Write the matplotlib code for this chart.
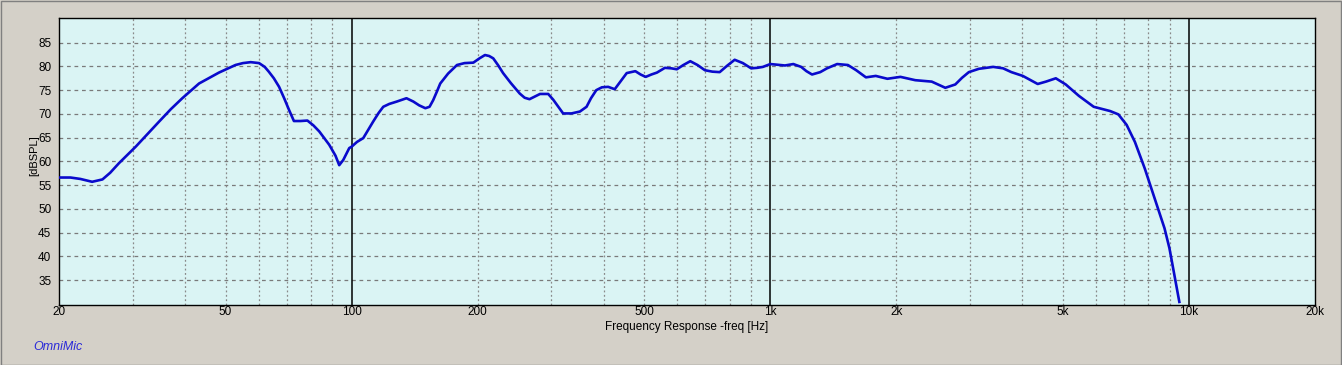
import matplotlib
matplotlib.use("Agg")
import matplotlib.pyplot as plt
from matplotlib.patches import Rectangle

# frequency response (Hz, dBSPL)
freq = [20, 21.3, 22.5, 24.0, 25.4, 26.5, 27.8, 30.5, 34.7, 37, 39.4, 43.2, 48.2,
        52.8, 55, 57.4, 60.1, 62, 63.4, 65.2, 67.1, 69, 70.9, 72.8, 75.5, 78.4,
        81, 83.7, 88.4, 91.5, 93.4, 95.5, 98.7, 100, 103, 106.6, 109.5, 112.6,
        116, 119, 123, 128.2, 135.2, 140.4, 145, 150, 153.5, 156.6, 160, 162.8,
        170, 178.5, 186, 195.3, 202, 208.2, 213, 217.9, 224, 230, 240, 252, 259,
        266, 273, 281.8, 294.8, 303, 311.6, 320, 335, 351, 364, 373, 384, 396,
        410, 425, 440, 454, 476, 490, 504, 520, 536, 560, 580, 598, 620, 644,
        670, 698, 727, 757, 790, 822, 860, 900, 930, 960, 1000, 1084, 1135, 1185,
        1220, 1258, 1316, 1366, 1444, 1532, 1604, 1692, 1786, 1904, 2046, 2220,
        2430, 2618, 2766, 2870, 2980, 3150, 3408, 3598, 3766, 4010, 4352, 4554,
        4808, 5078, 5458, 5922, 6482, 6782, 7096, 7428, 7842, 8280, 8742, 8982,
        9230, 9484]
spl = [56.6, 56.6, 56.3, 55.7, 56.2, 57.6, 59.6, 63.1, 68.4, 71.0, 73.3, 76.4, 78.7,
       80.3, 80.7, 80.9, 80.7, 79.9, 78.9, 77.5, 75.7, 73.3, 70.8, 68.5, 68.5, 68.6,
       67.6, 66.3, 63.5, 61.2, 59.2, 60.3, 62.8, 63.1, 64.1, 64.9, 66.6, 68.4,
       70.2, 71.5, 72.1, 72.6, 73.3, 72.6, 71.8, 71.2, 71.5, 72.9, 74.8, 76.4,
       78.5, 80.3, 80.7, 80.8, 81.7, 82.4, 82.2, 81.7, 80.2, 78.6, 76.5, 74.3, 73.4,
       73.1, 73.6, 74.2, 74.2, 73.0, 71.5, 70.1, 70.1, 70.5, 71.5, 73.3, 75.0, 75.6,
       75.7, 75.2, 77.0, 78.6, 79.0, 78.3, 77.8, 78.3, 78.7, 79.7, 79.6, 79.4, 80.3, 81.1,
       80.3, 79.2, 78.9, 78.8, 80.2, 81.4, 80.7, 79.6, 79.7, 79.9, 80.5, 80.2, 80.5, 79.9,
       79.0, 78.3, 78.8, 79.6, 80.5, 80.3, 79.2, 77.7, 78.0, 77.4, 77.8, 77.1,
       76.8, 75.5, 76.2, 77.6, 78.8, 79.5, 79.9, 79.6, 78.8, 78.0, 76.3, 76.8,
       77.5, 76.2, 73.8, 71.5, 70.6, 69.9, 67.7, 64.1, 58.5, 52.2, 45.9, 41.7,
       36.1, 30.4]

xticks = [20, 50, 100, 200, 500, 1000, 2000, 5000, 10000, 20000]
xtick_labels = ["20", "50", "100", "200", "500", "1k", "2k", "5k", "10k", "20k"]
yticks = [35, 40, 45, 50, 55, 60, 65, 70, 75, 80, 85]
minor_lines = [30, 40, 50, 60, 70, 80, 90, 200, 300, 400, 500, 600, 700, 800, 900,
               2000, 3000, 4000, 5000, 6000, 7000, 8000, 9000]
decade_lines = [100, 1000, 10000]

plt.rcParams['font.family'] = ['Liberation Sans', 'DejaVu Sans']

fig = plt.figure(figsize=(13.42, 3.65), dpi=100, facecolor='#D4D0C8')
ax = fig.add_axes([59/1342, 60/365, 1256/1342, 287/365])
ax.set_facecolor('#DAF4F4')

ax.set_xscale('log')
ax.set_xlim(20, 20000)
ax.set_ylim(29.75, 90.2)

# grid
for y in yticks:
    ax.axhline(y, color='#7A7A7A', lw=0.9, ls=(0, (3, 3)), zorder=1)
for x in minor_lines:
    ax.axvline(x, color='#8A8A8A', lw=0.9, ls=(0, (1.5, 2)), zorder=1)
for x in decade_lines:
    ax.axvline(x, color='black', lw=1.1, zorder=2)

ax.plot(freq, spl, color='#0A0ACC', lw=1.9, zorder=3, clip_on=True)

ax.set_xticks(xticks)
ax.set_xticklabels(xtick_labels)
ax.xaxis.set_minor_locator(matplotlib.ticker.NullLocator())
ax.set_yticks(yticks)
ax.tick_params(length=0, labelsize=8.5, colors='black')
ax.tick_params(axis='x', pad=1)
ax.tick_params(axis='y', pad=5.5)
for s in ax.spines.values():
    s.set_linewidth(1.0)
    s.set_color('black')

ax.set_xlabel("Frequency Response -freq [Hz]", fontsize=8.5, labelpad=2)
ax.set_ylabel("[dBSPL]", fontsize=8)
ax.yaxis.set_label_coords(-19.5/1256, 149.5/287)

fig.text(33/1342, 1 - 347/365, "OmniMic", color='#2A2AD8', fontsize=9,
         style='italic', va='center', ha='left')

fig.patches.append(Rectangle((0.5/1342, 0.5/365), 1340.5/1342, 363.5/365,
                             transform=fig.transFigure, fill=False,
                             edgecolor='#808080', lw=1.0))

fig.savefig("out.png", dpi=100, facecolor=fig.get_facecolor())
